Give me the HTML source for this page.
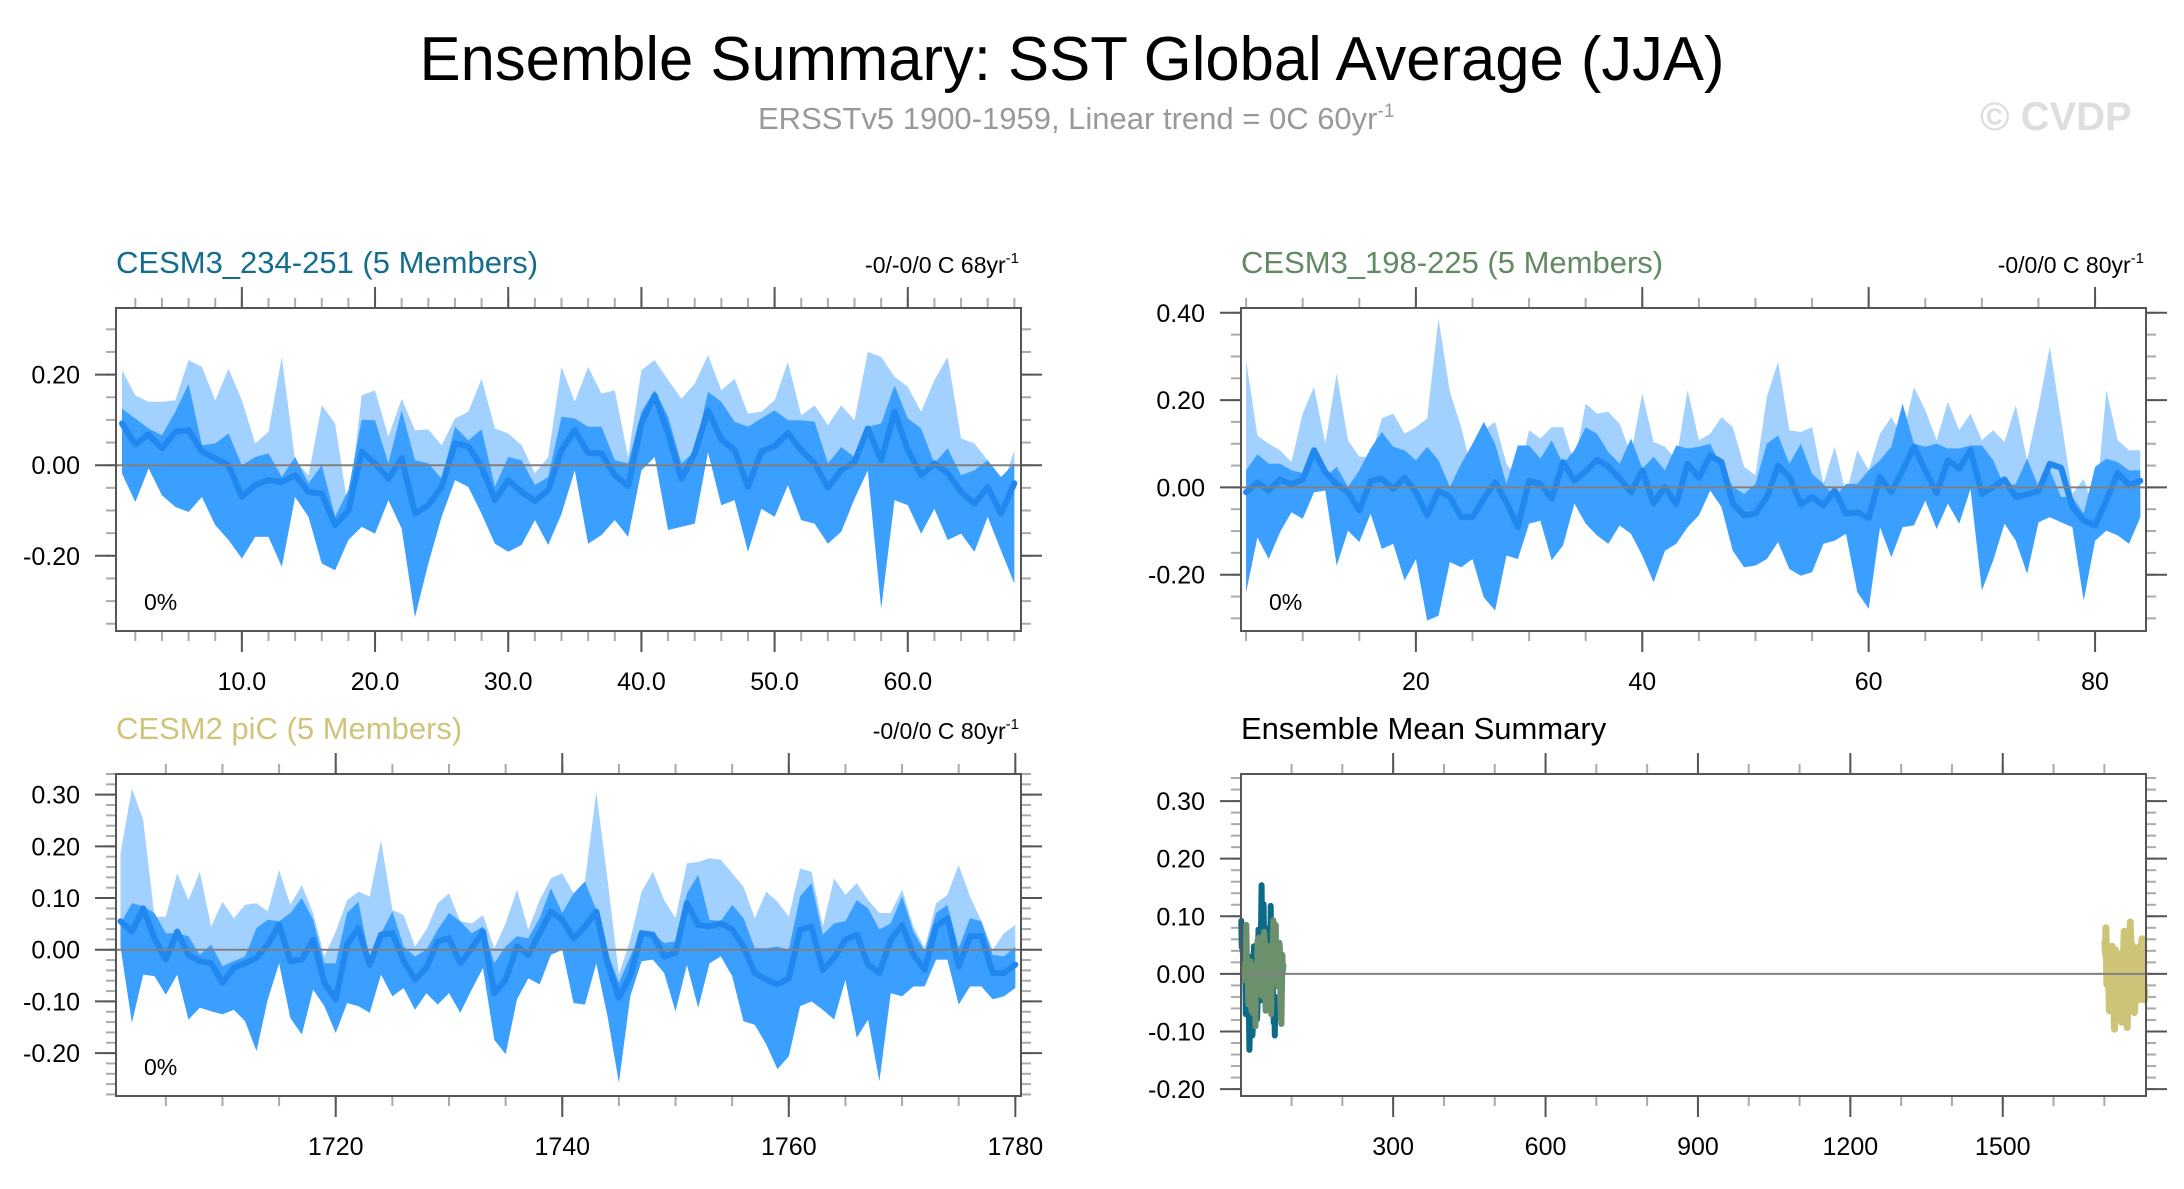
<!DOCTYPE html>
<html><head><meta charset="utf-8">
<style>
html,body{margin:0;padding:0;background:#fff;}
svg{display:block;font-family:"Liberation Sans",Arial,sans-serif;}
</style></head>
<body>
<svg id="chart" width="2184" height="1189" viewBox="0 0 2184 1189" xmlns="http://www.w3.org/2000/svg">
<rect width="2184" height="1189" fill="#fff"/>
<text x="1072" y="80" font-size="62" text-anchor="middle" fill="#000" textLength="1305" lengthAdjust="spacingAndGlyphs">Ensemble Summary: SST Global Average (JJA)</text>
<text x="758" y="129" font-size="31" fill="#999">ERSSTv5 1900-1959, Linear trend = 0C 60yr<tspan font-size="19" dy="-12">-1</tspan></text>
<text x="1980" y="130" font-size="40" font-weight="bold" fill="#dedede">© CVDP</text>
<g id="plots"></g>
</svg>
<script>
// ---- Panel 1: CESM3_234-251 (x = 1..68)
const p1Mean=[0.092,0.046,0.068,0.037,0.074,0.077,0.03,0.015,0.0,-0.07,-0.044,-0.033,-0.037,-0.022,-0.059,-0.063,-0.132,-0.10,0.03,0.004,-0.03,0.015,-0.107,-0.088,-0.048,0.048,0.042,-0.004,-0.077,-0.033,-0.059,-0.079,-0.055,0.033,0.077,0.027,0.026,-0.022,-0.046,0.092,0.154,0.07,-0.03,0.026,0.121,0.057,0.033,-0.048,0.03,0.042,0.071,0.033,0.004,-0.049,-0.011,0.007,0.081,0.011,0.118,0.033,-0.022,0.004,-0.018,-0.059,-0.085,-0.048,-0.107,-0.04];
const p1DarkHi=[0.125,0.103,0.081,0.066,0.118,0.18,0.044,0.048,0.07,0.0,0.018,0.026,-0.026,0.018,-0.04,0.0,-0.114,-0.055,0.10,0.099,0.004,0.121,0.011,0.004,-0.03,0.085,0.055,0.079,-0.048,0.018,0.011,-0.044,-0.026,0.107,0.103,0.085,0.085,0.011,0.004,0.118,0.165,0.107,0.004,0.03,0.162,0.14,0.096,0.085,0.103,0.121,0.099,0.099,0.096,0.004,0.04,0.018,0.085,0.092,0.176,0.103,0.081,0.004,0.037,-0.022,-0.011,0.011,-0.026,0.004];
const p1LightHi=[0.21,0.154,0.14,0.14,0.143,0.232,0.217,0.143,0.213,0.143,0.048,0.074,0.239,0.011,-0.022,0.132,0.092,-0.10,0.154,0.165,0.063,0.147,0.077,0.079,0.044,0.103,0.118,0.191,0.081,0.07,0.044,-0.018,0.018,0.217,0.14,0.217,0.158,0.165,0.018,0.21,0.232,0.188,0.147,0.18,0.243,0.165,0.191,0.114,0.118,0.143,0.228,0.11,0.132,0.088,0.132,0.099,0.25,0.239,0.195,0.173,0.118,0.188,0.239,0.059,0.048,0.011,-0.055,0.033];
const p1DarkLo=[-0.018,-0.081,-0.007,-0.066,-0.092,-0.103,-0.07,-0.132,-0.165,-0.206,-0.158,-0.158,-0.224,-0.07,-0.114,-0.217,-0.232,-0.165,-0.136,-0.151,-0.077,-0.14,-0.335,-0.217,-0.114,-0.033,-0.048,-0.107,-0.173,-0.191,-0.176,-0.121,-0.176,-0.107,-0.011,-0.173,-0.154,-0.121,-0.158,-0.011,0.018,-0.143,-0.136,-0.129,0.029,-0.088,-0.077,-0.191,-0.096,-0.114,-0.044,-0.121,-0.129,-0.173,-0.147,-0.074,-0.011,-0.316,-0.077,-0.088,-0.151,-0.096,-0.165,-0.151,-0.191,-0.114,-0.188,-0.261];
// ---- Panel 2: CESM3_198-225 (x = 5..84)
const p2Mean=[-0.011,0.011,-0.007,0.018,0.007,0.018,0.085,0.035,0.007,-0.011,-0.053,0.015,0.02,-0.003,0.022,-0.011,-0.064,-0.008,-0.022,-0.068,-0.068,-0.026,0.012,-0.034,-0.091,0.015,0.008,-0.026,0.058,0.015,0.037,0.063,0.048,0.02,-0.011,0.039,-0.037,0.001,-0.039,0.054,0.022,0.073,0.058,-0.037,-0.064,-0.06,-0.022,0.05,0.024,-0.039,-0.022,-0.041,-0.007,-0.06,-0.057,-0.07,0.024,-0.011,0.039,0.093,0.039,-0.013,0.062,0.043,0.085,-0.015,0.001,0.018,-0.022,-0.016,-0.008,0.054,0.045,-0.045,-0.076,-0.087,-0.03,0.033,0.005,0.015];
const p2DarkHi=[0.039,0.076,0.054,0.054,0.039,0.033,0.089,0.024,0.047,0.001,0.039,0.089,0.127,0.093,0.085,0.062,0.093,0.062,0.001,0.054,0.10,0.15,0.10,0.008,0.096,0.096,0.066,0.108,0.054,0.085,0.138,0.123,0.081,0.054,0.112,0.043,0.07,0.039,0.096,0.089,0.093,0.10,0.047,0.001,-0.015,0.008,0.10,0.119,0.054,0.10,0.031,0.008,-0.022,0.008,0.008,0.039,0.062,0.093,0.192,0.10,0.093,0.10,0.089,0.089,0.096,0.096,0.062,0.001,0.008,0.066,0.001,0.039,-0.022,-0.022,-0.06,0.047,0.066,0.058,0.039,0.039];
const p2LightHi=[0.291,0.119,0.10,0.085,0.058,0.169,0.23,0.10,0.261,0.108,0.07,0.07,0.158,0.169,0.123,0.138,0.158,0.387,0.219,0.138,0.031,0.131,0.15,0.054,0.02,0.131,0.112,0.138,0.138,0.054,0.192,0.169,0.173,0.146,0.077,0.215,0.104,0.093,0.062,0.223,0.108,0.123,0.161,0.138,0.047,0.028,0.207,0.288,0.131,0.127,0.138,0.008,0.093,-0.015,0.085,0.039,0.123,0.161,0.115,0.23,0.177,0.108,0.196,0.131,0.169,0.108,0.131,0.104,0.188,0.062,0.184,0.322,0.154,-0.015,0.02,-0.06,0.223,0.108,0.085,0.085];
const p2DarkLo=[-0.24,-0.114,-0.164,-0.102,-0.057,-0.072,-0.011,-0.007,-0.179,-0.099,-0.125,-0.06,-0.141,-0.129,-0.213,-0.164,-0.305,-0.294,-0.171,-0.183,-0.164,-0.252,-0.282,-0.156,-0.164,-0.083,-0.076,-0.167,-0.133,-0.037,-0.083,-0.11,-0.129,-0.087,-0.106,-0.156,-0.217,-0.145,-0.129,-0.091,-0.064,-0.007,-0.045,-0.145,-0.183,-0.179,-0.164,-0.125,-0.187,-0.202,-0.194,-0.129,-0.122,-0.106,-0.24,-0.278,-0.091,-0.16,-0.091,-0.087,-0.03,-0.095,-0.037,-0.083,-0.003,-0.236,-0.167,-0.083,-0.122,-0.198,-0.08,-0.068,-0.08,-0.091,-0.259,-0.122,-0.099,-0.11,-0.129,-0.068];
// ---- Panel 3: CESM2 piC (years 1701..1780)
const p3Mean=[0.055,0.035,0.08,0.022,-0.019,0.035,-0.01,-0.022,-0.026,-0.064,-0.035,-0.026,-0.016,0.01,0.048,-0.022,-0.019,0.019,-0.064,-0.096,0.01,0.042,-0.029,0.029,0.032,-0.022,-0.058,-0.035,0.016,0.022,-0.026,0.003,0.035,-0.084,-0.058,0.006,-0.01,0.032,0.074,0.058,0.022,0.045,0.074,-0.026,-0.093,-0.051,0.032,0.029,-0.013,-0.006,0.09,0.048,0.045,0.051,0.039,0.006,-0.045,-0.058,-0.067,-0.055,0.039,0.045,-0.039,-0.016,0.019,0.029,-0.029,-0.045,0.019,0.048,-0.01,-0.039,0.045,0.061,-0.032,0.026,0.026,-0.045,-0.045,-0.029];
const p3DarkHi=[0.051,0.09,0.084,0.071,0.032,0.032,0.026,-0.01,0.01,-0.032,-0.022,-0.013,0.042,0.058,0.055,0.071,0.10,0.058,-0.026,-0.026,0.071,0.093,-0.019,0.032,0.074,0.006,-0.013,0.0,0.039,0.071,0.055,0.032,0.045,-0.026,0.006,0.026,0.022,0.061,0.119,0.071,0.109,0.132,0.077,-0.006,-0.064,-0.013,0.032,0.032,0.013,0.016,0.109,0.145,0.058,0.055,0.087,0.061,0.003,0.003,0.006,0.0,0.103,0.129,0.029,0.051,0.055,0.096,0.08,0.039,0.051,0.103,0.035,-0.003,0.071,0.087,0.003,0.061,0.055,-0.01,-0.013,0.006];
const p3LightHi=[0.186,0.312,0.251,0.064,0.064,0.148,0.096,0.151,0.045,0.093,0.061,0.087,0.09,0.074,0.154,0.087,0.125,0.071,-0.013,0.035,0.096,0.112,0.103,0.212,0.077,0.067,0.006,0.039,0.09,0.109,0.055,0.051,0.067,0.003,0.051,0.116,0.039,0.096,0.138,0.148,0.109,0.132,0.305,0.135,-0.048,0.019,0.112,0.151,0.096,0.061,0.167,0.17,0.177,0.174,0.148,0.122,0.061,0.112,0.093,0.064,0.157,0.151,0.045,0.138,0.106,0.129,0.096,0.071,0.071,0.116,0.045,0.003,0.09,0.106,0.164,0.103,0.055,0.0,0.032,0.048];
const p3DarkLo=[0.006,-0.141,-0.048,-0.051,-0.087,-0.048,-0.135,-0.112,-0.119,-0.125,-0.116,-0.138,-0.196,-0.096,-0.026,-0.132,-0.164,-0.077,-0.109,-0.161,-0.103,-0.109,-0.122,-0.048,-0.09,-0.074,-0.116,-0.084,-0.106,-0.084,-0.122,-0.077,-0.035,-0.174,-0.202,-0.096,-0.055,-0.067,-0.01,0.0,-0.103,-0.106,-0.026,-0.129,-0.257,-0.09,-0.022,-0.019,-0.045,-0.119,-0.029,-0.112,-0.026,-0.013,-0.051,-0.138,-0.145,-0.183,-0.231,-0.206,-0.109,-0.10,-0.116,-0.135,-0.058,-0.17,-0.135,-0.254,-0.084,-0.09,-0.071,-0.071,-0.019,-0.019,-0.106,-0.071,-0.071,-0.096,-0.09,-0.074];
// tick labels
const p1XTicks=[10,20,30,40,50,60], p1XLabels=["10.0","20.0","30.0","40.0","50.0","60.0"];
const p1YTicks=[0.2,0,-0.2], p1YLabels=["0.20","0.00","-0.20"];
const p2XTicks=[20,40,60,80], p2XLabels=["20","40","60","80"];
const p2YTicks=[0.4,0.2,0,-0.2], p2YLabels=["0.40","0.20","0.00","-0.20"];
const p3XTicks=[1720,1740,1760,1780], p3XLabels=["1720","1740","1760","1780"];
const p3YTicks=[0.3,0.2,0.1,0,-0.1,-0.2], p3YLabels=["0.30","0.20","0.10","0.00","-0.10","-0.20"];
const p4XTicks=[300,600,900,1200,1500], p4XLabels=["300","600","900","1200","1500"];
const p4YTicks=[0.3,0.2,0.1,0,-0.1,-0.2], p4YLabels=["0.30","0.20","0.10","0.00","-0.10","-0.20"];

const NS="http://www.w3.org/2000/svg";
const root=document.getElementById('plots');
function mk(tag,attrs,parent){const e=document.createElementNS(NS,tag);for(const k in attrs)e.setAttribute(k,attrs[k]);(parent||root).appendChild(e);return e;}

function makeAxes(cfg){
  const g=mk('g',{});
  
  
  const sx=v=>cfg.L+(v-cfg.x0)/(cfg.x1-cfg.x0)*(cfg.R-cfg.L);
  const sy=v=>cfg.B-(v-cfg.y0)/(cfg.y1-cfg.y0)*(cfg.B-cfg.T);
  cfg.sx=sx;cfg.sy=sy;cfg.g=g;
  return cfg;
}
function drawFrame(c){
  const g=c.g;
  for(let v=c.xmStart;v<=c.x1+1e-9;v+=c.xmStep){
    if(v<c.x0)continue;const x=sx(c,v);
    const t1=mk('line',{x1:x,x2:x,y1:c.T,y2:c.T-10,stroke:'#aaa','stroke-width':2},g);
    
    const t2=mk('line',{x1:x,x2:x,y1:c.B,y2:c.B+10,stroke:'#aaa','stroke-width':2},g);
    
  }
  for(let v=c.ymStart;v<=c.y1+1e-9;v+=c.ymStep){
    if(v<c.y0)continue;const y=sy(c,v);
    const t1=mk('line',{x1:c.L,x2:c.L-10,y1:y,y2:y,stroke:'#aaa','stroke-width':2},g);
    
    const t2=mk('line',{x1:c.R,x2:c.R+10,y1:y,y2:y,stroke:'#aaa','stroke-width':2},g);
    
  }
  c.xt.forEach((v,i)=>{const x=sx(c,v);
    const a=mk('line',{x1:x,x2:x,y1:c.T,y2:c.T-21,stroke:'#555','stroke-width':2},g);
    
    const b=mk('line',{x1:x,x2:x,y1:c.B,y2:c.B+21,stroke:'#555','stroke-width':2},g);
    
    const t=mk('text',{x:x,y:c.B+59,'font-size':25,'text-anchor':'middle',fill:'#000'},g);t.textContent=c.xl[i];
    
  });
  c.yt.forEach((v,i)=>{const y=sy(c,v);
    const a=mk('line',{x1:c.L,x2:c.L-21,y1:y,y2:y,stroke:'#555','stroke-width':2},g);
    
    const b=mk('line',{x1:c.R,x2:c.R+21,y1:y,y2:y,stroke:'#555','stroke-width':2},g);
    
    const t=mk('text',{x:c.L-36,y:y+9,'font-size':25,'text-anchor':'end',fill:'#000'},g);t.textContent=c.yl[i];
    
  });
}
function sx(c,v){return c.sx(v);} function sy(c,v){return c.sy(v);}
function band(c,xs,hi,lo,fill,name){
  let d='';xs.forEach((x,i)=>{d+=(i?'L':'M')+sx(c,x).toFixed(1)+','+sy(c,hi[i]).toFixed(1);});
  for(let i=xs.length-1;i>=0;i--)d+='L'+sx(c,xs[i]).toFixed(1)+','+sy(c,lo[i]).toFixed(1);
  const p=mk('path',{d:d+'Z',fill:fill},c.g);
  
}
function line(c,xs,ys,stroke,w,name){
  let d='';xs.forEach((x,i)=>{d+=(i?'L':'M')+sx(c,x).toFixed(1)+','+sy(c,ys[i]).toFixed(1);});
  const p=mk('path',{d:d,fill:'none',stroke:stroke,'stroke-width':w,'stroke-linejoin':'round','stroke-linecap':'round'},c.g);
  
}
function zero(c){const y=sy(c,0);
  const z=mk('line',{x1:c.L,x2:c.R,y1:y,y2:y,stroke:'#808080','stroke-width':2},c.g);
  }
function box(c){const r=mk('rect',{x:c.L,y:c.T,width:c.R-c.L,height:c.B-c.T,fill:'none',stroke:'#555','stroke-width':2},c.g);
  }
function titles(c,title,color,right){
  const t=mk('text',{x:c.L,y:c.T-35,'font-size':31,fill:color},c.g);t.textContent=title;
  
  if(right){const r=mk('text',{x:c.R-2,y:c.T-35,'font-size':23,'text-anchor':'end',fill:'#000'},c.g);
    r.textContent=right;const s=mk('tspan',{'font-size':15,dy:-10},r);s.textContent='-1';
    }
}
function pct(c){const t=mk('text',{x:c.L+28,y:c.B-21,'font-size':23,fill:'#000'},c.g);t.textContent='0%';
  }
const rng=(a,n)=>Array.from({length:n},(_,i)=>a+i);

function ensemblePanel(c,xs,light,dhi,dlo,mean,title,color,right){
  drawFrame(c);
  band(c,xs,light,dlo,'#a2d0ff','light-spread-band');
  band(c,xs,dhi,dlo,'#3a9ffe','dark-spread-band');
  line(c,xs,mean,'#2088ee',6,'ensemble-mean-line');
  zero(c);box(c);titles(c,title,color,right);pct(c);
}
const c1=makeAxes({name:'panel-cesm3-234-251',L:116,R:1021,T:308,B:631,x0:0.55,x1:68.5,y0:-0.366,y1:0.347,xt:p1XTicks,xl:p1XLabels,yt:p1YTicks,yl:p1YLabels,xmStart:2,xmStep:2,ymStart:-0.35,ymStep:0.05});
ensemblePanel(c1,rng(1,p1Mean.length),p1LightHi,p1DarkHi,p1DarkLo,p1Mean,'CESM3_234-251 (5 Members)','#136e8d','-0/-0/0 C 68yr');
const c2=makeAxes({name:'panel-cesm3-198-225',L:1241,R:2146,T:308,B:631,x0:4.55,x1:84.5,y0:-0.329,y1:0.411,xt:p2XTicks,xl:p2XLabels,yt:p2YTicks,yl:p2YLabels,xmStart:5,xmStep:5,ymStart:-0.3,ymStep:0.05});
ensemblePanel(c2,rng(5,p2Mean.length),p2LightHi,p2DarkHi,p2DarkLo,p2Mean,'CESM3_198-225 (5 Members)','#628a62','-0/0/0 C 80yr');
const c3=makeAxes({name:'panel-cesm2-pic',L:116,R:1021,T:774,B:1096,x0:1700.6,x1:1780.5,y0:-0.283,y1:0.340,xt:p3XTicks,xl:p3XLabels,yt:p3YTicks,yl:p3YLabels,xmStart:1705,xmStep:5,ymStart:-0.28,ymStep:0.02});
ensemblePanel(c3,rng(1701,p3Mean.length),p3LightHi,p3DarkHi,p3DarkLo,p3Mean,'CESM2 piC (5 Members)','#cfc47a','-0/0/0 C 80yr');
const c4=makeAxes({name:'panel-ensemble-mean-summary',L:1241,R:2146,T:774,B:1096,x0:0.5,x1:1782,y0:-0.212,y1:0.347,xt:p4XTicks,xl:p4XLabels,yt:p4YTicks,yl:p4YLabels,xmStart:100,xmStep:100,ymStart:-0.2,ymStep:0.02});
drawFrame(c4);
line(c4,rng(1,p1Mean.length),p1Mean,'#0a6a8a',6,'cesm3-234-251-mean-line');
line(c4,rng(5,p2Mean.length),p2Mean,'#6c8f6c',6,'cesm3-198-225-mean-line');
line(c4,rng(1701,p3Mean.length),p3Mean,'#cdc478',7,'cesm2-pic-mean-line');
zero(c4);box(c4);titles(c4,'Ensemble Mean Summary','#000',null);
</script>
</body></html>
